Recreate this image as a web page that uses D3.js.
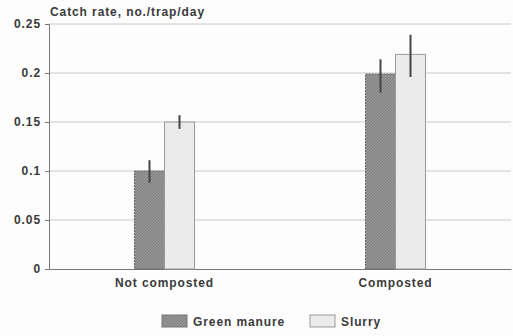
<!DOCTYPE html>
<html>
<head>
<meta charset="utf-8">
<script src="https://cdn.jsdelivr.net/npm/d3@7"></script>
<style>
  body { margin: 0; background: #fdfdfd; }
  text { font-family: "Liberation Sans", Arial, sans-serif; fill: #3a3a3a; font-weight: bold; letter-spacing: 0.9px; }
</style>
</head>
<body>
<svg id="chart" width="513" height="336"></svg>
<script>
'use strict';

// data
const categories = ['Not composted', 'Composted'];
const seriesNames = ['Green manure', 'Slurry'];
const greenManure = [0.1, 0.199];
const slurry = [0.15, 0.219];
const greenLow = [0.088, 0.18];
const greenHigh = [0.111, 0.214];
const slurryLow = [0.143, 0.196];
const slurryHigh = [0.157, 0.239];
const yTicks = [0, 0.05, 0.1, 0.15, 0.2, 0.25];
const yTickLabels = ['0', '0.05', '0.1', '0.15', '0.2', '0.25'];

const margin = {top: 24, right: 2, bottom: 67, left: 49};
const width = 513, height = 336;
const FONT = '12px';

const svg = d3.select('#chart');

// hatch pattern for the dark bars
const defs = svg.append('defs');
const pat = defs.append('pattern')
  .attr('id', 'hatch')
  .attr('width', 3).attr('height', 3)
  .attr('patternUnits', 'userSpaceOnUse');
pat.append('rect').attr('width', 3).attr('height', 3).attr('fill', '#959595');
pat.append('path').attr('d', 'M0,3L3,0').attr('stroke', '#7a7a7a').attr('stroke-width', 0.8);

const x0 = d3.scaleBand()
  .domain(categories)
  .range([margin.left, width - margin.right]);

const x1 = d3.scaleBand()
  .domain(seriesNames)
  .range([x0.bandwidth() / 2 - 30, x0.bandwidth() / 2 + 30]);

const y = d3.scaleLinear()
  .domain([0, 0.25])
  .range([height - margin.bottom, margin.top]);

// gridlines
svg.append('g')
  .selectAll('line')
  .data(yTicks.slice(1))
  .join('line')
  .attr('x1', margin.left)
  .attr('x2', width - margin.right)
  .attr('y1', d => y(d))
  .attr('y2', d => y(d))
  .attr('stroke', '#cacaca')
  .attr('stroke-width', 1);

// y axis
const yAxis = svg.append('g')
  .attr('transform', `translate(${margin.left},0)`)
  .call(d3.axisLeft(y).tickValues(yTicks).tickFormat((d, i) => yTickLabels[i]).tickSize(4).tickPadding(4));
yAxis.select('.domain').attr('stroke', '#777');
yAxis.selectAll('.tick line').attr('stroke', '#777');
yAxis.selectAll('.tick text').style('font-size', FONT).attr('fill', '#3a3a3a');

// x axis
const xAxis = svg.append('g')
  .attr('transform', `translate(0,${height - margin.bottom})`)
  .call(d3.axisBottom(x0).tickSize(0).tickPadding(9));
xAxis.select('.domain').attr('stroke', '#777');
xAxis.selectAll('.tick text').style('font-size', FONT).attr('fill', '#3a3a3a');

// bars
const rows = categories.map((c, i) => ({
  cat: c,
  values: [
    {name: seriesNames[0], v: greenManure[i], lo: greenLow[i], hi: greenHigh[i]},
    {name: seriesNames[1], v: slurry[i], lo: slurryLow[i], hi: slurryHigh[i]}
  ]
}));

const groups = svg.append('g')
  .selectAll('g')
  .data(rows)
  .join('g')
  .attr('transform', d => `translate(${x0(d.cat)},0)`);

groups.selectAll('rect')
  .data(d => d.values)
  .join('rect')
  .attr('x', d => x1(d.name))
  .attr('width', x1.bandwidth())
  .attr('y', d => y(d.v))
  .attr('height', d => y(0) - y(d.v))
  .attr('fill', d => d.name === seriesNames[0] ? 'url(#hatch)' : '#ebebeb')
  .attr('stroke', d => d.name === seriesNames[0] ? '#666' : '#999')
  .attr('stroke-dasharray', d => d.name === seriesNames[0] ? '2,1' : null)
  .attr('stroke-width', 1);

// error bars
groups.selectAll('line.err')
  .data(d => d.values)
  .join('line')
  .attr('class', 'err')
  .attr('x1', d => x1(d.name) + x1.bandwidth() / 2)
  .attr('x2', d => x1(d.name) + x1.bandwidth() / 2)
  .attr('y1', d => y(d.lo))
  .attr('y2', d => y(d.hi))
  .attr('stroke', '#444')
  .attr('stroke-width', 2);

// axis title
svg.append('text')
  .attr('x', 50)
  .attr('y', 16)
  .style('font-size', FONT)
  .text('Catch rate, no./trap/day');

// legend
const legend = svg.append('g').attr('transform', 'translate(162,315)');
const legendItems = legend.selectAll('g')
  .data(seriesNames)
  .join('g')
  .attr('transform', (d, i) => `translate(${i * 148},0)`);

legendItems.append('rect')
  .attr('width', 25)
  .attr('height', 12)
  .attr('fill', (d, i) => i === 0 ? 'url(#hatch)' : '#ebebeb')
  .attr('stroke', (d, i) => i === 0 ? '#777' : '#999');

legendItems.append('text')
  .attr('x', 31)
  .attr('y', 11)
  .style('font-size', FONT)
  .text(d => d);
</script>
</body>
</html>
